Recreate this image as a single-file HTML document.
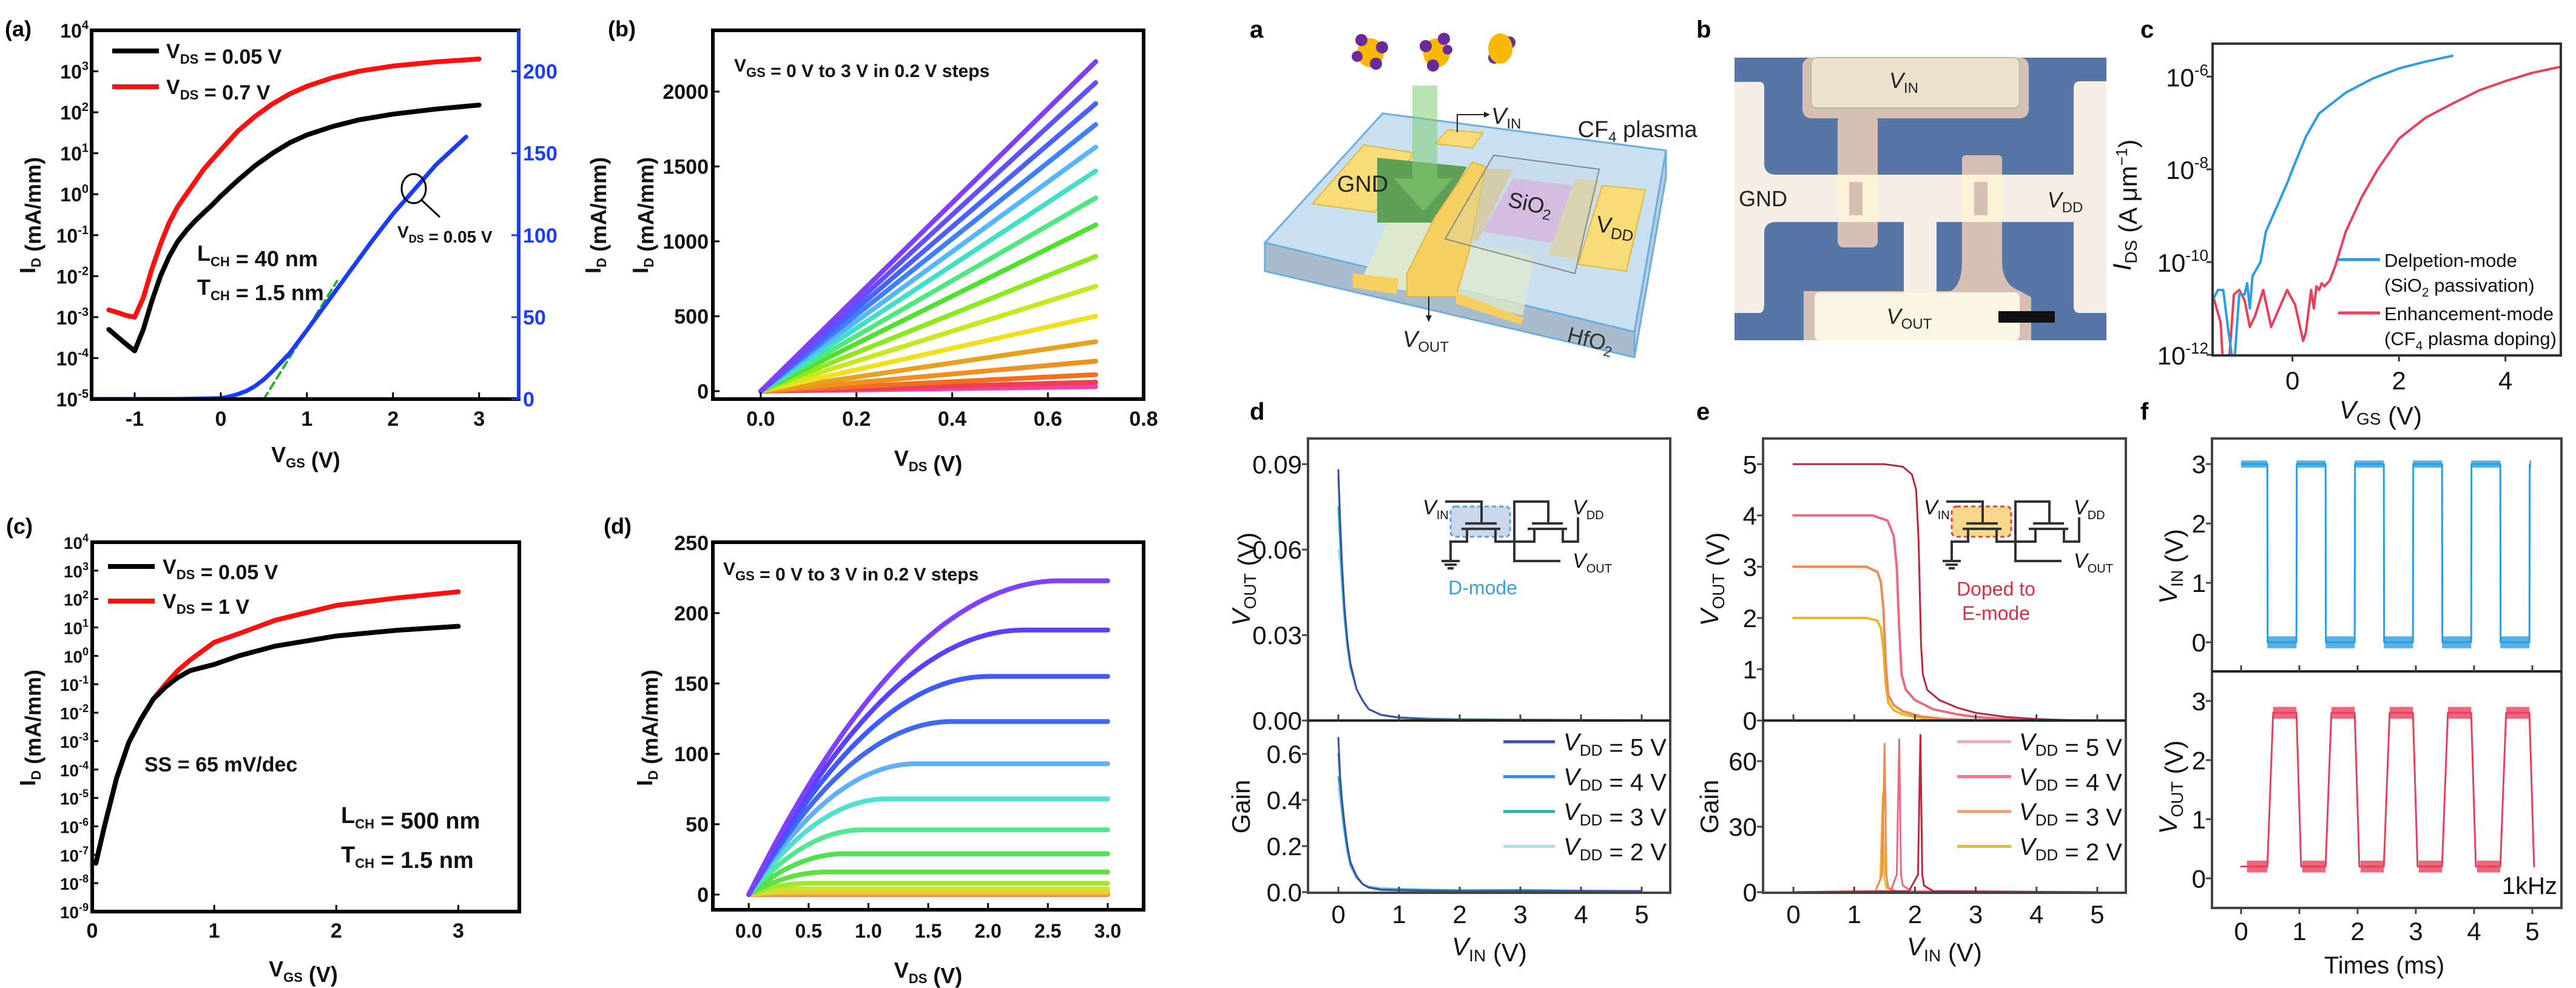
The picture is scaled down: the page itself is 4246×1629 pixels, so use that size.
<!DOCTYPE html>
<html><head><meta charset="utf-8"><style>
html,body{margin:0;padding:0;background:#fff;}
svg{display:block;}
text{font-family:"Liberation Sans",Arial,sans-serif;}
</style></head><body>
<svg id="fig" width="4246" height="1629" viewBox="0 0 4246 1629" xmlns="http://www.w3.org/2000/svg">
<defs>
<clipPath id="cpA"><rect x="151" y="50" width="704" height="608"/></clipPath>
<clipPath id="cpB"><rect x="1175" y="50" width="710" height="608"/></clipPath>
<clipPath id="cpC"><rect x="152" y="894" width="704" height="609"/></clipPath>
<clipPath id="cpD"><rect x="1175" y="894" width="710" height="606"/></clipPath>
<clipPath id="cpRC"><rect x="3647" y="72" width="574" height="514"/></clipPath>
<clipPath id="cpRD1"><rect x="2156" y="723" width="597" height="465"/></clipPath>
<clipPath id="cpRD2"><rect x="2156" y="1188" width="597" height="284"/></clipPath>
<clipPath id="cpRE1"><rect x="2906" y="723" width="598" height="465"/></clipPath>
<clipPath id="cpRE2"><rect x="2906" y="1188" width="598" height="284"/></clipPath>
<clipPath id="cpRF1"><rect x="3646" y="723" width="576" height="384"/></clipPath>
<clipPath id="cpRF2"><rect x="3646" y="1107" width="576" height="390"/></clipPath>
</defs>

<!-- schematic a -->
<g>
<polygon points="2085,400 2694,547 2694,589 2085,447" fill="#a9bccd" stroke="#6aaee0" stroke-width="3"/>
<polygon points="2694,547 2746,248 2746,292 2694,589" fill="#b9ccdd" stroke="#6aaee0" stroke-width="3"/>
<polygon points="2085,400 2279,187 2746,248 2694,547" fill="#c8e0f2" stroke="#6aaee0" stroke-width="3"/>
<polygon points="2290,360 2364,367 2330,480 2240,470" fill="#dde9cc"/>
<polygon points="2420,400 2530,420 2510,520 2400,495" fill="#dde9cc" opacity="0.8"/>
<polygon points="2163,336 2248,239 2331,252 2266,350" fill="#f7dc78" stroke="#e0b840" stroke-width="2"/>
<polygon points="2270,260 2418,275 2364,367 2270,367" fill="#5f9e55"/>
<polygon points="2366,237 2386,214 2444,219 2427,244" fill="#f7dc78" stroke="#e0b840" stroke-width="2"/>
<polygon points="2494,294 2592,306 2560,401 2444,382" fill="#d8b4e2"/>
<polygon points="2431,279 2494,279 2436,397 2382,394" fill="#d8c890" opacity="0.9"/>
<polygon points="2596,294 2636,298 2601,428 2552,420" fill="#e2d49c" opacity="0.9"/>
<polygon points="2641,306 2712,313 2681,447 2601,436" fill="#f7dc78" stroke="#e0b840" stroke-width="2"/>
<polygon points="2427,267 2449,275 2422,412 2400,489 2319,489 2319,451 2364,360" fill="#f5d060" stroke="#e0b840" stroke-width="2"/>
<polygon points="2230,451 2306,459 2302,485 2230,474" fill="#f5d060"/>
<polygon points="2400,482 2511,524 2507,535 2400,501" fill="#f5d060"/>
<polygon points="2462,256 2636,279 2596,451 2382,394" fill="rgba(200,210,220,0.25)" stroke="#888" stroke-width="2"/>
<rect x="2328" y="141" width="41" height="153" fill="rgba(130,205,115,0.55)"/>
<polygon points="2297,294 2395,294 2346,348" fill="rgba(130,205,115,0.55)"/>
<g><ellipse cx="2259" cy="87" rx="22" ry="24" fill="#f8b800"/><circle cx="2244" cy="66" r="10" fill="#6a2a9a"/><circle cx="2278" cy="78" r="10" fill="#6a2a9a"/><circle cx="2268" cy="105" r="10" fill="#6a2a9a"/><circle cx="2237" cy="93" r="9" fill="#6a2a9a"/></g>
<g><ellipse cx="2368" cy="87" rx="22" ry="24" fill="#f8b800"/><circle cx="2380" cy="64" r="10" fill="#6a2a9a"/><circle cx="2350" cy="76" r="10" fill="#6a2a9a"/><circle cx="2362" cy="108" r="10" fill="#6a2a9a"/><circle cx="2386" cy="82" r="8" fill="#6a2a9a"/></g>
<g><circle cx="2463" cy="95" r="10" fill="#6a2a9a"/><circle cx="2488" cy="70" r="10" fill="#6a2a9a"/><ellipse cx="2473" cy="80" rx="20" ry="25" fill="#f8b800"/></g>
<path d="M2402,218 V189 H2446" fill="none" stroke="#222" stroke-width="2"/>
<polygon points="2446,184 2456,189 2446,194" fill="#222"/>
<path d="M2355,489 V522" fill="none" stroke="#222" stroke-width="2"/>
<polygon points="2350,520 2360,520 2355,531" fill="#222"/>
<text x="2246" y="316" font-size="38" text-anchor="middle" fill="#222">GND</text>
<text x="2520" y="348" font-size="36" text-anchor="middle" fill="#222" transform="rotate(12 2520 348)">SiO<tspan dy="8" font-size="24">2</tspan></text>
<text x="2661" y="386" font-size="38" text-anchor="middle" fill="#222" transform="rotate(8 2661 386)">V<tspan dy="8" font-size="26">DD</tspan></text>
<text x="2458" y="204" font-size="38" font-style="italic" fill="#222">V<tspan dy="8" font-size="24" font-style="normal">IN</tspan></text>
<text x="2699" y="226" font-size="38" text-anchor="middle" fill="#222">CF<tspan dy="8" font-size="24">4</tspan><tspan dy="-8"> plasma</tspan></text>
<text x="2350" y="572" font-size="38" font-style="italic" text-anchor="middle" fill="#222">V<tspan dy="8" font-size="24" font-style="normal">OUT</tspan></text>
<text x="2619" y="572" font-size="36" text-anchor="middle" fill="#333" transform="rotate(14 2619 572)">HfO<tspan dy="8" font-size="24">2</tspan></text>
</g>

<!-- photo b -->
<g>
<rect x="2859" y="95" width="613" height="466" fill="#5676a6"/>
<path d="M2859,135 H2900 Q2908,135 2908,145 V270 Q2908,288 2928,288 H3472 V366 H2928 Q2908,366 2908,384 V500 Q2908,516 2900,516 H2859 Z" fill="#f6eee4"/>
<path d="M3472,134 H3428 Q3418,134 3418,146 V505 Q3418,516 3428,516 H3472 Z" fill="#f6eee4"/>
<rect x="2971" y="95" width="373" height="100" rx="14" fill="#d8bfb5"/>
<rect x="2985" y="95" width="344" height="83" rx="10" fill="#ece2cc" stroke="#a8c0a8" stroke-width="2"/>
<rect x="3029" y="190" width="66" height="218" rx="10" fill="#d8bfb5"/>
<path d="M3240,256 H3294 Q3300,256 3300,264 V430 Q3300,470 3330,480 L3348,490 V561 H2973 V480 H3215 Q3234,470 3234,430 V264 Q3234,256 3240,256 Z" fill="#d8bfb5"/>
<rect x="3138" y="366" width="54" height="118" fill="#f6eee4"/>
<rect x="2991" y="482" width="338" height="79" rx="8" fill="#fbf6e2"/>
<rect x="3029" y="288" width="66" height="78" fill="#fff7da" opacity="0.9"/>
<rect x="3048" y="300" width="22" height="55" fill="#d8bfb5"/>
<rect x="3234" y="288" width="66" height="78" fill="#fff7da" opacity="0.9"/>
<rect x="3254" y="300" width="22" height="55" fill="#d8bfb5"/>
<rect x="3294" y="513" width="93" height="19" fill="#111"/>
<text x="3138" y="145" font-size="36" font-style="italic" text-anchor="middle" fill="#222">V<tspan dy="8" font-size="24" font-style="normal">IN</tspan></text>
<text x="2906" y="340" font-size="36" text-anchor="middle" fill="#222">GND</text>
<text x="3404" y="342" font-size="36" font-style="italic" text-anchor="middle" fill="#222">V<tspan dy="8" font-size="24" font-style="normal">DD</tspan></text>
<text x="3147" y="534" font-size="36" font-style="italic" text-anchor="middle" fill="#222">V<tspan dy="8" font-size="24" font-style="normal">OUT</tspan></text>
</g>

<!-- panel letters -->
<text x="8" y="60" font-size="36" font-weight="bold">(a)</text>
<text x="1002" y="60" font-size="36" font-weight="bold">(b)</text>
<text x="10" y="880" font-size="36" font-weight="bold">(c)</text>
<text x="995" y="880" font-size="36" font-weight="bold">(d)</text>
<text x="2060" y="62" font-size="40" font-weight="bold">a</text>
<text x="2796" y="62" font-size="40" font-weight="bold">b</text>
<text x="3528" y="62" font-size="40" font-weight="bold">c</text>
<text x="2060" y="692" font-size="40" font-weight="bold">d</text>
<text x="2796" y="692" font-size="40" font-weight="bold">e</text>
<text x="3528" y="692" font-size="40" font-weight="bold">f</text>
</svg>

<script>
// ===== data arrays =====
// left (a)
const aX = [-1.3,-1.2,-1.1,-1,-0.9,-0.8,-0.7,-0.6,-0.5,-0.4,-0.3,-0.2,-0.1,0,0.2,0.4,0.6,0.8,1,1.3,1.6,2,2.5,3];
const aBlack = [5e-4,3.3e-4,2.2e-4,1.5e-4,5e-4,2.5e-3,1e-2,3e-2,7e-2,0.13,0.22,0.35,0.55,0.9,2.2,5,10,18,28,45,65,90,120,150];
const aRed = [1.5e-3,1.3e-3,1.1e-3,1e-3,3e-3,1.5e-2,0.06,0.2,0.5,1,2,4,7,12,35,80,160,280,430,700,1000,1350,1700,2000];
const aLinX = [-1.5,-1,-0.5,0,0.1,0.2,0.3,0.4,0.5,0.6,0.8,1,1.25,1.5,1.75,2,2.25,2.5,2.85];
const aLinY = [0,0,0,0.5,1.5,3,5,8,12,17,28,42,60,78,96,113,128,143,160];
const aFitX = [0.5,1.35];
const aFitY = [0,72];
const aLogTicks = [4,3,2,1,0,-1,-2,-3,-4,-5];
const aXTicks = [-1,0,1,2,3];
const aRTicks = [0,50,100,150,200];
// left (b)
const bVgs = ['0','0.2','0.4','0.6','0.8','1.0','1.2','1.4','1.6','1.8','2.0','2.2','2.4','2.6','2.8','3.0'];
const bEnd = [30,60,110,200,330,500,700,900,1110,1290,1470,1630,1780,1920,2060,2200];
const bColors = ['#f040b0','#f04050','#f07020','#f09020','#e8a020','#f0e020','#c8e820','#8ee820','#50e030','#4fe880','#40e0c8','#55b8ff','#3f80ff','#4a60ff','#6050ff','#7f3fff'];
const bXTicks = [0,0.2,0.4,0.6,0.8];
const bYTicks = [0,500,1000,1500,2000];
// left (c)
const cX = [0.03,0.1,0.2,0.3,0.4,0.5,0.6,0.7,0.8,1,1.2,1.5,2,2.5,3];
const cBlack = [5e-8,1e-6,5e-5,9e-4,6e-3,3e-2,8e-2,0.17,0.3,0.5,1,2.2,5,8,11];
const cRed = [5e-8,1e-6,5e-5,9e-4,6e-3,3e-2,0.1,0.3,0.7,3,6,18,60,110,180];
const cLogTicks = [4,3,2,1,0,-1,-2,-3,-4,-5,-6,-7,-8,-9];
const cXTicks = [0,1,2,3];
// left (d)
const dIsat = [0.1,0.2,0.5,1,2,4,8,16,29,46,68,93,123,155,188,223];
const dVsat = [0.1,0.15,0.2,0.25,0.3,0.4,0.5,0.65,0.8,0.95,1.15,1.4,1.7,2.0,2.3,2.6];
const dColors = ['#f06040','#f07030','#f09030','#f0b030','#e8d030','#d0e030','#a0e830','#60e040','#50e050','#50e890','#50e0d0','#60b0ff','#3f6af0','#3f5aff','#5a40ff','#8040ff'];
const dXTicks = ['0.0','0.5','1.0','1.5','2.0','2.5','3.0'];
const dYTicks = [0,50,100,150,200,250];
// right (c)
const rcBlueX = [-1.5,-1.4,-1.3,-1.2,-1.1,-1.0,-0.9,-0.85,-0.8,-0.75,-0.6,-0.5,-0.3,-0.1,0,0.25,0.5,1,1.5,2,2.5,3];
const rcBlue = [1.5e-11,2.5e-11,2.5e-11,3e-12,5e-13,2e-11,2e-11,3.5e-11,1e-11,5e-11,1e-10,4.5e-10,1.5e-9,5e-9,1e-8,5e-8,1.6e-7,4.5e-7,9e-7,1.5e-6,2.1e-6,2.8e-6];
const rcRedX = [-1.5,-1.4,-1.35,-1.3,-1.2,-1.1,-1,-0.9,-0.8,-0.7,-0.55,-0.4,-0.25,-0.1,0.05,0.2,0.25,0.35,0.4,0.45,0.5,0.55,0.6,0.7,0.8,1,1.3,1.6,2,2.5,3,3.5,4,4.5,5];
const rcRed = [2e-11,8e-12,5e-12,5e-13,5e-13,2e-11,2.5e-11,1.5e-11,4e-12,7e-12,2.5e-11,4e-12,1e-11,2.5e-11,1.2e-11,2e-12,3e-12,2.5e-11,1e-11,3e-11,2.5e-11,3.5e-11,3e-11,4e-11,8e-11,4.5e-10,2.5e-9,1e-8,4.6e-8,1.3e-7,2.6e-7,5e-7,8e-7,1.2e-6,1.6e-6];
const rcYTicks = [-6,-8,-10,-12];
const rcXTicks = [0,2,4];
// right (d)
const rdX = [0,0.03,0.06,0.1,0.15,0.2,0.3,0.4,0.5,0.7,1,1.5,2,3,4,5];
const rdV5 = [0.088,0.07,0.055,0.04,0.028,0.02,0.011,0.007,0.004,0.002,0.001,0.0005,0.0003,0.0002,0.0001,0.0001];
const rdV4 = [0.085,0.068,0.053,0.039,0.027,0.019,0.011,0.007,0.004,0.002,0.001,0.0005,0.0003,0.0002,0.0001,0.0001];
const rdV3 = [0.075,0.062,0.05,0.037,0.026,0.019,0.011,0.007,0.004,0.002,0.001,0.0006,0.0004,0.0003,0.0002,0.0001];
const rdV2 = [0.06,0.055,0.046,0.035,0.025,0.018,0.011,0.007,0.004,0.002,0.0012,0.0008,0.0006,0.0004,0.0003,0.0002];
const rdG5 = [0.67,0.5,0.4,0.3,0.2,0.13,0.07,0.035,0.02,0.01,0.008,0.006,0.005,0.005,0.005,0.004];
const rdG4 = [0.6,0.48,0.38,0.28,0.19,0.12,0.065,0.035,0.02,0.012,0.01,0.008,0.006,0.006,0.005,0.005];
const rdG3 = [0.5,0.44,0.36,0.27,0.18,0.12,0.065,0.035,0.022,0.014,0.012,0.01,0.008,0.01,0.006,0.005];
const rdG2 = [0.45,0.4,0.33,0.25,0.17,0.11,0.06,0.035,0.025,0.02,0.015,0.012,0.01,0.01,0.008,0.006];
const rdLegend = ['5 V','4 V','3 V','2 V'];
const rdColors = ['#3b4fa8','#3a8fd6','#22b5b0','#a8e0ea'];
const rdVTicks = ['0.00','0.03','0.06','0.09'];
const rdGTicks = ['0.0','0.2','0.4','0.6'];
const rXTicks = [0,1,2,3,4,5];
// right (e)
const re5X = [0,1.5,1.8,1.95,2.02,2.06,2.1,2.13,2.2,2.4,2.7,3,3.5,4,4.5,5];
const re5Y = [5,5,4.95,4.8,4.5,3.5,1.5,0.9,0.6,0.4,0.25,0.15,0.07,0.03,0.01,0];
const re4X = [0,1.3,1.55,1.65,1.7,1.74,1.78,1.85,2,2.3,2.7,3,3.5,4,5];
const re4Y = [4,4,3.9,3.6,3,1.8,0.9,0.6,0.4,0.22,0.12,0.07,0.03,0.01,0];
const re3X = [0,1.2,1.38,1.44,1.48,1.52,1.56,1.65,1.8,2.1,2.5,3,4,5];
const re3Y = [3,3,2.9,2.7,2.2,1.1,0.5,0.3,0.18,0.08,0.03,0.01,0,0];
const re2X = [0,1.2,1.38,1.44,1.48,1.52,1.56,1.65,1.8,2.1,2.5,3,4,5];
const re2Y = [2,2,1.95,1.8,1.4,0.7,0.35,0.2,0.12,0.05,0.02,0.01,0,0];
const reG5X = [0,1.9,2.05,2.09,2.12,2.15,2.3,5];
const reG5 = [0,0.5,8,72,8,3,0.5,0];
const reG4X = [0,1.6,1.7,1.74,1.77,1.8,1.95,5];
const reG4 = [0,0.5,8,70,8,3,0.5,0];
const reG3X = [0,1.35,1.46,1.5,1.53,1.56,1.7,5];
const reG3 = [0,0.5,8,68,8,2,0.3,0];
const reG2X = [0,1.35,1.43,1.47,1.5,1.53,1.7,5];
const reG2 = [0,0.5,6,45,6,2,0.3,0];
const reColors = ['#b82838','#ec6a80','#ee8a50','#e8b820'];
const reLegendColors = ['#e4b0b8','#f07890','#f0a070','#e8c030'];
const reVTicks = [0,1,2,3,4,5];
const reGTicks = [0,30,60];
// right (f)
const rfFall = [0.45,1.45,2.45,3.45,4.45];
const rfRise = [0.95,1.95,2.95,3.95,4.95];
const rfInHigh = 3, rfInLow = 0;
const rfOutHigh = 2.8, rfOutLow = 0.2;
const rfEdge = 0.1;
const rfTicks = [0,1,2,3,4,5];
const rfVTicks = [0,1,2,3];

// ===== helpers =====
const svg = document.getElementById('fig');
const NS = 'http://www.w3.org/2000/svg';
function mk(tag, attrs, name, parent){
  const e = document.createElementNS(NS, tag);
  for (const k in attrs) e.setAttribute(k, attrs[k]);
  
  
  (parent || svg).appendChild(e);
  return e;
}
function txt(x,y,html,size,anchor,name,opt){
  opt = opt || {};
  const a = {x:x, y:y, 'font-size':size, 'text-anchor':anchor, fill: opt.fill || '#111'};
  if (opt.bold) a['font-weight'] = 'bold';
  if (opt.rot) a.transform = 'rotate(' + opt.rot + ' ' + x + ' ' + y + ')';
  const t = mk('text', a, name);
  t.innerHTML = html;
  return t;
}
function lin(d0,d1,r0,r1){ return v => r0 + (v-d0)/(d1-d0)*(r1-r0); }
function lg(d0,d1,r0,r1){ const a=Math.log10(d0), b=Math.log10(d1); return v => r0 + (Math.log10(Math.max(v,1e-30))-a)/(b-a)*(r1-r0); }
function line(xs,ys,X,Y,stroke,w,name,clip,extra){
  const d = xs.map((x,i)=>(i?'L':'M')+X(x).toFixed(1)+' '+Y(ys[i]).toFixed(1)).join(' ');
  const a = {d:d, fill:'none', stroke:stroke, 'stroke-width':w, 'stroke-linejoin':'round', 'stroke-linecap':'round'};
  if (clip) a['clip-path'] = 'url(#'+clip+')';
  if (extra) for (const k in extra) a[k] = extra[k];
  return mk('path', a, name);
}
function sub(main, s, sz, dy){ return main + '<tspan dy="'+dy+'" font-size="'+sz+'">'+s+'</tspan><tspan dy="-'+dy+'"></tspan>'; }

// ===== LEFT (a) =====
{
  const X = lin(-1.5,3.46,151,855), Y = lg(1e-5,1e4,658,50), YR = lin(0,225,658,50);
  line(aX,aRed,X,Y,'#ff1010',8,'curve-a-red-vds-0p7',"cpA");
  line(aX,aBlack,X,Y,'#000',8,'curve-a-black-vds-0p05',"cpA");
  line(aFitX,aFitY,X,YR,'#22b030',4,'curve-a-linear-fit',"cpA",{'stroke-dasharray':'12 8'});
  line(aLinX,aLinY,X,YR,'#1a3cff',7,'curve-a-blue-linear',"cpA");
  mk('rect',{x:151,y:50,width:704,height:608,fill:'none',stroke:'#000','stroke-width':6},'frame-a');
  mk('line',{x1:855,y1:50,x2:855,y2:658,stroke:'#1a3cff','stroke-width':6},'right-axis-a');
  aLogTicks.forEach(p=>{
    mk('line',{x1:151,y1:Y(Math.pow(10,p)),x2:162,y2:Y(Math.pow(10,p)),stroke:'#000','stroke-width':3},'y-tick-a');
    txt(146,Y(Math.pow(10,p))+12,'10<tspan dy="-14" font-size="20">'+p+'</tspan>',32,'end','y-tick-label-a',{bold:1});
  });
  aXTicks.forEach(v=>{
    mk('line',{x1:X(v),y1:658,x2:X(v),y2:647,stroke:'#000','stroke-width':3},'x-tick-a');
    txt(X(v),702,String(v),34,'middle','x-tick-label-a',{bold:1});
  });
  aRTicks.forEach(v=>{
    mk('line',{x1:855,y1:YR(v),x2:843,y2:YR(v),stroke:'#1a3cff','stroke-width':3},'right-tick-a');
    txt(862,YR(v)+12,String(v),34,'start','right-tick-label-a',{bold:1,fill:'#1a3cff'});
  });
  txt(504,762,sub('V','GS',22,9)+' (V)',36,'middle','x-axis-title-a',{bold:1});
  txt(58,355,sub('I','D',22,9)+' (mA/mm)',36,'middle','y-axis-title-a',{bold:1,rot:-90});
  txt(990,355,sub('I','D',22,9)+' (mA/mm)',36,'middle','y-axis-title-a-right',{bold:1,rot:-90});
  mk('line',{x1:185,y1:84,x2:262,y2:84,stroke:'#000','stroke-width':8},'legend-a-black-line');
  txt(274,96,sub('V','DS',22,9)+' = 0.05 V',34,'start','legend-a-black-label',{bold:1});
  mk('line',{x1:185,y1:143,x2:262,y2:143,stroke:'#ff1010','stroke-width':8},'legend-a-red-line');
  txt(274,155,sub('V','DS',22,9)+' = 0.7 V',34,'start','legend-a-red-label',{bold:1});
  txt(325,430,sub('L','CH',22,9)+' = 40 nm',36,'start','lch-annotation-a',{bold:1});
  txt(325,486,sub('T','CH',22,9)+' = 1.5 nm',36,'start','tch-annotation-a',{bold:1});
  mk('ellipse',{cx:682,cy:311,rx:20,ry:24,fill:'none',stroke:'#000','stroke-width':3},'highlight-circle-a');
  mk('line',{x1:695,y1:330,x2:725,y2:358,stroke:'#000','stroke-width':3},'highlight-arrow-a');
  txt(655,392,sub('V','DS',18,8)+' = 0.05 V',28,'start','vds-annotation-a',{bold:1});
}
// ===== LEFT (b) =====
{
  const X = lin(-0.1,0.8,1175,1885), Y = lin(-53,2409,658,50);
  bEnd.forEach((v,i)=>{
    line([0,0.7],[0,v],X,Y,bColors[i],8,'curve-b-vgs-'+bVgs[i],"cpB");
  });
  mk('rect',{x:1175,y:50,width:710,height:608,fill:'none',stroke:'#000','stroke-width':6},'frame-b');
  bXTicks.forEach(v=>{
    mk('line',{x1:X(v),y1:658,x2:X(v),y2:647,stroke:'#000','stroke-width':3},'x-tick-b');
    txt(X(v),702,v.toFixed(1),34,'middle','x-tick-label-b',{bold:1});
  });
  bYTicks.forEach(v=>{
    mk('line',{x1:1175,y1:Y(v),x2:1186,y2:Y(v),stroke:'#000','stroke-width':3},'y-tick-b');
    txt(1168,Y(v)+12,String(v),34,'end','y-tick-label-b',{bold:1});
  });
  txt(1530,768,sub('V','DS',22,9)+' (V)',36,'middle','x-axis-title-b',{bold:1});
  txt(1068,355,sub('I','D',22,9)+' (mA/mm)',36,'middle','y-axis-title-b',{bold:1,rot:-90});
  txt(1210,118,sub('V','GS',22,9)+' = 0 V to 3 V in 0.2 V steps',30,'start','vgs-step-note-b',{bold:1});
}
// ===== LEFT (c) =====
{
  const X = lin(0,3.5,152,856), Y = lg(1e-9,1e4,1503,894);
  line(cX,cRed,X,Y,'#ff1010',8,'curve-c-red-vds-1',"cpC");
  line(cX,cBlack,X,Y,'#000',8,'curve-c-black-vds-0p05',"cpC");
  mk('rect',{x:152,y:894,width:704,height:609,fill:'none',stroke:'#000','stroke-width':6},'frame-c');
  cLogTicks.forEach(p=>{
    mk('line',{x1:152,y1:Y(Math.pow(10,p)),x2:162,y2:Y(Math.pow(10,p)),stroke:'#000','stroke-width':3},'y-tick-c');
    txt(146,Y(Math.pow(10,p))+11,'10<tspan dy="-12" font-size="18">'+p+'</tspan>',28,'end','y-tick-label-c',{bold:1});
  });
  cXTicks.forEach(v=>{
    mk('line',{x1:X(v),y1:1503,x2:X(v),y2:1492,stroke:'#000','stroke-width':3},'x-tick-c');
    txt(X(v),1546,String(v),34,'middle','x-tick-label-c',{bold:1});
  });
  txt(500,1610,sub('V','GS',22,9)+' (V)',36,'middle','x-axis-title-c',{bold:1});
  txt(58,1200,sub('I','D',22,9)+' (mA/mm)',36,'middle','y-axis-title-c',{bold:1,rot:-90});
  mk('line',{x1:178,y1:934,x2:255,y2:934,stroke:'#000','stroke-width':8},'legend-c-black-line');
  txt(268,946,sub('V','DS',22,9)+' = 0.05 V',34,'start','legend-c-black-label',{bold:1});
  mk('line',{x1:178,y1:991,x2:255,y2:991,stroke:'#ff1010','stroke-width':8},'legend-c-red-line');
  txt(268,1003,sub('V','DS',22,9)+' = 1 V',34,'start','legend-c-red-label',{bold:1});
  txt(238,1272,'SS = 65 mV/dec',34,'start','ss-annotation-c',{bold:1});
  txt(562,1357,sub('L','CH',22,9)+' = 500 nm',38,'start','lch-annotation-c',{bold:1});
  txt(562,1422,sub('T','CH',22,9)+' = 1.5 nm',38,'start','tch-annotation-c',{bold:1});
}
// ===== LEFT (d) =====
{
  const X = lin(-0.3,3.3,1175,1885), Y = lin(-10.8,250.4,1500,894);
  dIsat.forEach((isat,i)=>{
    const vs = dVsat[i], xs=[], ys=[];
    for (let k=0;k<=60;k++){ const v=3*k/60; xs.push(v); const r=Math.min(v/vs,1); ys.push(isat*(1-(1-r)*(1-r))); }
    line(xs,ys,X,Y,dColors[i],8,'curve-d-'+i,"cpD");
  });
  mk('rect',{x:1175,y:894,width:710,height:606,fill:'none',stroke:'#000','stroke-width':6},'frame-d');
  dXTicks.forEach(s=>{
    const v = parseFloat(s);
    mk('line',{x1:X(v),y1:1500,x2:X(v),y2:1489,stroke:'#000','stroke-width':3},'x-tick-d');
    txt(X(v),1546,s,32,'middle','x-tick-label-d',{bold:1});
  });
  dYTicks.forEach(v=>{
    mk('line',{x1:1175,y1:Y(v),x2:1186,y2:Y(v),stroke:'#000','stroke-width':3},'y-tick-d');
    txt(1168,Y(v)+12,String(v),34,'end','y-tick-label-d',{bold:1});
  });
  txt(1530,1612,sub('V','DS',22,9)+' (V)',36,'middle','x-axis-title-d',{bold:1});
  txt(1075,1200,sub('I','D',22,9)+' (mA/mm)',36,'middle','y-axis-title-d',{bold:1,rot:-90});
  txt(1192,948,sub('V','GS',22,9)+' = 0 V to 3 V in 0.2 V steps',30,'start','vgs-step-note-d',{bold:1});
}
function itsub(main, s, sz, dy){ return '<tspan font-style="italic">'+main+'</tspan><tspan dy="'+dy+'" font-size="'+sz+'">'+s+'</tspan><tspan dy="-'+dy+'"></tspan>'; }
// ===== RIGHT (c) =====
{
  const X = lin(-1.5,5.04,3647,4221), Y = lg(1e-12,Math.pow(10,-5.29),585,72);
  line(rcRedX,rcRed,X,Y,'#e8405a',4,'curve-rc-enhancement',"cpRC");
  line(rcBlueX,rcBlue,X,Y,'#2a9ee0',4,'curve-rc-depletion',"cpRC");
  mk('rect',{x:3647,y:72,width:574,height:514,fill:'none',stroke:'#333','stroke-width':4},'frame-rc');
  rcYTicks.forEach(p=>{
    mk('line',{x1:3647,y1:Y(Math.pow(10,p)),x2:3637,y2:Y(Math.pow(10,p)),stroke:'#333','stroke-width':3},'y-tick-rc');
    txt(3640,Y(Math.pow(10,p))+16,'10<tspan dy="-18" font-size="26">'+p+'</tspan>',42,'end','y-tick-label-rc');
  });
  rcXTicks.forEach(v=>{
    mk('line',{x1:X(v),y1:586,x2:X(v),y2:596,stroke:'#333','stroke-width':3},'x-tick-rc');
    txt(X(v),642,String(v),42,'middle','x-tick-label-rc');
  });
  txt(3924,690,itsub('V','GS',28,10)+' (V)',42,'middle','x-axis-title-rc');
  txt(3512,338,itsub('I','DS',28,10)+' (A μm<tspan dy="-16" font-size="26">−1</tspan><tspan dy="16">)</tspan>',42,'middle','y-axis-title-rc',{rot:-90});
  mk('line',{x1:3854,y1:428,x2:3923,y2:428,stroke:'#2a9ee0','stroke-width':5},'legend-rc-depletion-line');
  txt(3930,440,'Delpetion-mode',31,'start','legend-rc-depletion-label');
  txt(3930,481,'(SiO<tspan dy="8" font-size="21">2</tspan><tspan dy="-8"> passivation)</tspan>',31,'start','legend-rc-depletion-sub');
  mk('line',{x1:3854,y1:516,x2:3923,y2:516,stroke:'#e8405a','stroke-width':5},'legend-rc-enhancement-line');
  txt(3930,528,'Enhancement-mode',31,'start','legend-rc-enhancement-label');
  txt(3930,569,'(CF<tspan dy="8" font-size="21">4</tspan><tspan dy="-8"> plasma doping)</tspan>',31,'start','legend-rc-enhancement-sub');
}
function circuit(ox, boxStroke, boxFill, pfx){
  const g = mk('g',{},pfx+'-circuit-inset');
  const d = 'M'+(2382+ox)+',827 H'+(2442+ox)+' V863 M'+(2415+ox)+',863 H'+(2467+ox)+' M'+(2409+ox)+',872 H'+(2473+ox)+
    ' M'+(2418+ox)+',872 V893 H'+(2391+ox)+' V925 M'+(2465+ox)+',872 V893 H'+(2529+ox)+' V872 M'+(2518+ox)+',872 H'+(2583+ox)+
    ' M'+(2525+ox)+',863 H'+(2576+ox)+' M'+(2552+ox)+',863 V827 H'+(2496+ox)+' V925 H'+(2572+ox)+' M'+(2576+ox)+',872 V893 H'+(2601+ox)+' V853';
  mk('rect',{x:2391+ox,y:835,width:98,height:50,rx:8,fill:boxFill,stroke:boxStroke,'stroke-width':3,'stroke-dasharray':'7 5'},pfx+'-highlight-box',g);
  mk('path',{d:d,fill:'none',stroke:'#333','stroke-width':4},pfx+'-circuit-wires',g);
  mk('path',{d:'M'+(2376+ox)+',925 H'+(2406+ox)+' M'+(2381+ox)+',931 H'+(2401+ox)+' M'+(2386+ox)+',937 H'+(2396+ox),stroke:'#333','stroke-width':4},pfx+'-ground-symbol',g);
  txt(2345+ox,848,itsub('V','IN',20,8),34,'start',pfx+'-circuit-vin');
  txt(2592+ox,848,itsub('V','DD',20,8),34,'start',pfx+'-circuit-vdd');
  txt(2592+ox,936,itsub('V','OUT',20,8),34,'start',pfx+'-circuit-vout');
}
// ===== RIGHT (d) =====
{
  const X = lin(-0.5,5.47,2156,2753), YV = lin(0,0.099,1188,723), YG = lin(0,0.745,1471,1188);
  [rdV2,rdV3,rdV4,rdV5].forEach((arr,j)=>{ line(rdX,arr,X,YV,rdColors[3-j],3,'curve-rd-vout-vdd-'+rdLegend[3-j],"cpRD1"); });
  [rdG2,rdG3,rdG4,rdG5].forEach((arr,j)=>{ line(rdX,arr,X,YG,rdColors[3-j],3,'curve-rd-gain-vdd-'+rdLegend[3-j],"cpRD2"); });
  mk('rect',{x:2156,y:723,width:597,height:749,fill:'none',stroke:'#444','stroke-width':4},'frame-rd');
  mk('line',{x1:2156,y1:1188,x2:2753,y2:1188,stroke:'#222','stroke-width':4},'divider-rd');
  rXTicks.forEach(v=>{
    mk('line',{x1:X(v),y1:1472,x2:X(v),y2:1462,stroke:'#444','stroke-width':3},'x-tick-rd');
    mk('line',{x1:X(v),y1:1188,x2:X(v),y2:1178,stroke:'#444','stroke-width':3},'x-tick-rd-mid');
    txt(X(v),1522,String(v),42,'middle','x-tick-label-rd');
  });
  rdVTicks.forEach(s=>{ const v=parseFloat(s);
    mk('line',{x1:2156,y1:YV(v),x2:2146,y2:YV(v),stroke:'#444','stroke-width':3},'y-tick-rd-vout');
    txt(2146,YV(v)+15,s,42,'end','y-tick-label-rd-vout'); });
  rdGTicks.forEach(s=>{ const v=parseFloat(s);
    mk('line',{x1:2156,y1:YG(v),x2:2146,y2:YG(v),stroke:'#444','stroke-width':3},'y-tick-rd-gain');
    txt(2146,YG(v)+15,s,42,'end','y-tick-label-rd-gain'); });
  txt(2455,1575,itsub('V','IN',28,10)+' (V)',42,'middle','x-axis-title-rd');
  txt(2060,955,itsub('V','OUT',28,10)+' (V)',42,'middle','y-axis-title-rd-vout',{rot:-90});
  txt(2060,1330,'Gain',42,'middle','y-axis-title-rd-gain',{rot:-90});
  rdLegend.forEach((s,i)=>{
    const y = 1223 + i*57.5;
    mk('line',{x1:2478,y1:y,x2:2563,y2:y,stroke:rdColors[i],'stroke-width':5},'legend-rd-line');
    txt(2577,y+14,itsub('V','DD',26,9)+' = '+s,40,'start','legend-rd-label');
  });
  circuit(0,'#4aa8e0','rgba(110,140,200,0.35)','rd');
  txt(2444,980,'D-mode',32,'middle','d-mode-label',{fill:'#3aa0dc'});
}
// ===== RIGHT (e) =====
{
  const X = lin(-0.5,5.47,2906,3504), YV = lin(0,5.5,1188,723), YG = lin(0,78.6,1471,1188);
  line(re2X,re2Y,X,YV,reColors[3],4,'curve-re-vout-vdd-2',"cpRE1");
  line(re3X,re3Y,X,YV,reColors[2],4,'curve-re-vout-vdd-3',"cpRE1");
  line(re4X,re4Y,X,YV,reColors[1],4,'curve-re-vout-vdd-4',"cpRE1");
  line(re5X,re5Y,X,YV,reColors[0],3,'curve-re-vout-vdd-5',"cpRE1");
  line(reG2X,reG2,X,YG,reColors[3],3,'curve-re-gain-vdd-2',"cpRE2");
  line(reG3X,reG3,X,YG,reColors[2],3,'curve-re-gain-vdd-3',"cpRE2");
  line(reG4X,reG4,X,YG,reColors[1],3,'curve-re-gain-vdd-4',"cpRE2");
  line(reG5X,reG5,X,YG,reColors[0],3,'curve-re-gain-vdd-5',"cpRE2");
  mk('rect',{x:2906,y:723,width:598,height:749,fill:'none',stroke:'#444','stroke-width':4},'frame-re');
  mk('line',{x1:2906,y1:1188,x2:3504,y2:1188,stroke:'#222','stroke-width':4},'divider-re');
  rXTicks.forEach(v=>{
    mk('line',{x1:X(v),y1:1472,x2:X(v),y2:1462,stroke:'#444','stroke-width':3},'x-tick-re');
    mk('line',{x1:X(v),y1:1188,x2:X(v),y2:1178,stroke:'#444','stroke-width':3},'x-tick-re-mid');
    txt(X(v),1522,String(v),42,'middle','x-tick-label-re');
  });
  reVTicks.forEach(v=>{
    mk('line',{x1:2906,y1:YV(v),x2:2896,y2:YV(v),stroke:'#444','stroke-width':3},'y-tick-re-vout');
    txt(2896,YV(v)+15,String(v),42,'end','y-tick-label-re-vout'); });
  reGTicks.forEach(v=>{
    mk('line',{x1:2906,y1:YG(v),x2:2896,y2:YG(v),stroke:'#444','stroke-width':3},'y-tick-re-gain');
    txt(2896,YG(v)+15,String(v),42,'end','y-tick-label-re-gain'); });
  txt(3205,1575,itsub('V','IN',28,10)+' (V)',42,'middle','x-axis-title-re');
  txt(2832,955,itsub('V','OUT',28,10)+' (V)',42,'middle','y-axis-title-re-vout',{rot:-90});
  txt(2832,1330,'Gain',42,'middle','y-axis-title-re-gain',{rot:-90});
  rdLegend.forEach((s,i)=>{
    const y = 1223 + i*57.5;
    mk('line',{x1:3226,y1:y,x2:3315,y2:y,stroke:reLegendColors[i],'stroke-width':5},'legend-re-line');
    txt(3328,y+14,itsub('V','DD',26,9)+' = '+s,40,'start','legend-re-label');
  });
  circuit(826,'#e04050','rgba(248,200,90,0.7)','re');
  txt(3290,982,'Doped to',32,'middle','doped-to-label',{fill:'#d83040'});
  txt(3290,1022,'E-mode',32,'middle','e-mode-label',{fill:'#d83040'});
}
// ===== RIGHT (f) =====
{
  const X = lin(-0.5,5.5,3646,4222), YI = lin(-0.49,3.43,1107,723), YO = lin(-0.5,3.5,1497,1107);
  const inX=[0], inY=[rfInHigh], outX=[0], outY=[rfOutLow];
  rfFall.forEach((t,i)=>{
    inX.push(t, t+0.005, rfRise[i], rfRise[i]+0.005); inY.push(rfInHigh, rfInLow, rfInLow, rfInHigh);
    outX.push(t, t+rfEdge, rfRise[i], rfRise[i]+rfEdge*0.8); outY.push(rfOutLow, rfOutHigh, rfOutHigh, rfOutLow);
  });
  line(inX,inY,X,YI,'#2a9ee0',3,'curve-rf-vin',"cpRF1",{'stroke-linecap':'butt'});
  line(outX,outY,X,YO,'#e8405a',3,'curve-rf-vout',"cpRF2");
  rfFall.forEach((t,i)=>{
    mk('rect',{x:X(t),y:YI(0.1),width:X(rfRise[i])-X(t),height:YI(-0.1)-YI(0.1),fill:'#2a9ee0',opacity:0.8},'noise-rf-vin-low');
    mk('rect',{x:X(t+rfEdge),y:YO(rfOutHigh+0.1),width:X(rfRise[i])-X(t+rfEdge),height:YO(rfOutHigh-0.1)-YO(rfOutHigh+0.1),fill:'#e8405a',opacity:0.8},'noise-rf-vout-high');
  });
  [0].concat(rfRise).forEach((t,i)=>{
    const e = i<rfFall.length ? rfFall[i] : 5;
    mk('rect',{x:X(t),y:YI(3.06),width:Math.max(0,X(Math.min(e,4.98))-X(t)),height:YI(2.94)-YI(3.06),fill:'#2a9ee0',opacity:0.8},'noise-rf-vin-high');
    mk('rect',{x:X(t+rfEdge),y:YO(0.3),width:Math.max(0,X(Math.min(e,4.98))-X(t+rfEdge)),height:YO(0.1)-YO(0.3),fill:'#e8405a',opacity:0.8},'noise-rf-vout-low');
  });
  mk('rect',{x:3646,y:723,width:576,height:774,fill:'none',stroke:'#444','stroke-width':4},'frame-rf');
  mk('line',{x1:3646,y1:1107,x2:4222,y2:1107,stroke:'#222','stroke-width':4},'divider-rf');
  rfTicks.forEach(v=>{
    mk('line',{x1:X(v),y1:1497,x2:X(v),y2:1507,stroke:'#444','stroke-width':3},'x-tick-rf');
    mk('line',{x1:X(v),y1:1107,x2:X(v),y2:1097,stroke:'#444','stroke-width':3},'x-tick-rf-mid');
    txt(X(v),1550,String(v),42,'middle','x-tick-label-rf');
  });
  rfVTicks.forEach(v=>{
    mk('line',{x1:3646,y1:YI(v),x2:3636,y2:YI(v),stroke:'#444','stroke-width':3},'y-tick-rf-vin');
    txt(3636,YI(v)+15,String(v),42,'end','y-tick-label-rf-vin');
    mk('line',{x1:3646,y1:YO(v),x2:3636,y2:YO(v),stroke:'#444','stroke-width':3},'y-tick-rf-vout');
    txt(3636,YO(v)+15,String(v),42,'end','y-tick-label-rf-vout');
  });
  txt(3930,1605,'Times (ms)',40,'middle','x-axis-title-rf');
  txt(3588,934,itsub('V','IN',28,10)+' (V)',42,'middle','y-axis-title-rf-vin',{rot:-90});
  txt(3588,1298,itsub('V','OUT',28,10)+' (V)',42,'middle','y-axis-title-rf-vout',{rot:-90});
  txt(4215,1474,'1kHz',40,'end','frequency-label-rf');
}
</script>
</body></html>
